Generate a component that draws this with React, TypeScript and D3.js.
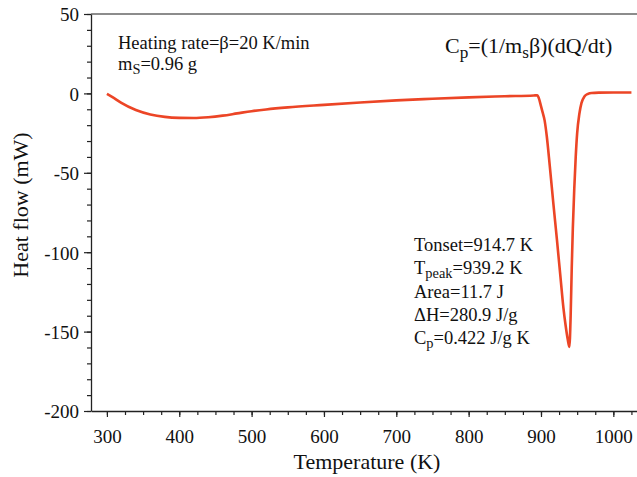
import { useRef, useEffect } from 'react'
import { select, line, scaleLinear, axisBottom, axisLeft, range, curveMonotoneX } from 'd3'

const Settings = {
  width: 637,
  height: 477,
  left: 91,
  right: 643,
  top: 14,
  bottom: 411,
  font: '"Liberation Serif", "Times New Roman", serif',
  lineColor: '#ec4526',
}

// temperature (K) and heat flow (mW)
const temperature = [
  300, 310, 320, 340, 360, 380, 400, 420, 440, 460, 480, 500, 520, 550, 600, 650, 700, 750, 800, 850,
  890, 895, 897, 900, 902, 905, 908, 912, 917, 922, 927, 931, 934, 937, 939.2,
  941, 942.5, 944, 946, 948, 950, 953, 956, 960, 965, 970, 980, 1000, 1025,
]
const heatFlow = [
  -0.3, -3, -6, -10.5, -13.3, -14.8, -15.4, -15.5, -15, -14, -12.6, -11.2, -10.1, -8.8, -7.2, -5.7, -4.4, -3.4, -2.5, -1.8,
  -1.3, -1.2, -3, -8, -11.5, -17, -27, -45, -69, -92, -116, -135, -146, -155, -159.6,
  -140, -110, -85, -60, -40, -25, -13, -6, -2, -0.3, 0.3, 0.5, 0.6, 0.6,
]

const xMajorTicks = [300, 400, 500, 600, 700, 800, 900, 1000]
const xMinorTicks = range(300, 1026, 25)
const yMajorTicks = [50, 0, -50, -100, -150, -200]
const yMinorTicks = range(-200, 51, 10)

const xDomain = [278, 1041]
const yDomain = [-200, 50]

function App() {
  const svgRef = useRef<SVGSVGElement>(null)

  useEffect(() => {
    const svg = select(svgRef.current)
    svg.selectAll('*').remove()

    const xScale = scaleLinear().domain(xDomain).range([Settings.left, Settings.right])
    const yScale = scaleLinear().domain(yDomain).range([Settings.bottom, Settings.top])

    // top frame line (gray)
    svg.append('line')
      .attr('x1', Settings.left).attr('x2', Settings.right)
      .attr('y1', Settings.top).attr('y2', Settings.top)
      .attr('stroke', '#666').attr('stroke-width', 1.5)

    // x axis: minor then major ticks
    svg.append('g')
      .attr('transform', `translate(0,${Settings.bottom})`)
      .call(axisBottom(xScale).tickValues(xMinorTicks).tickSize(4).tickFormat(() => ''))
      .call(g => g.select('.domain').remove())
    const xAxis = svg.append('g')
      .attr('transform', `translate(0,${Settings.bottom})`)
      .call(axisBottom(xScale).tickValues(xMajorTicks).tickSizeInner(6).tickSizeOuter(0).tickPadding(13).tickFormat(d => String(d)))
    xAxis.selectAll('text')
      .style('font-family', Settings.font).style('font-size', '19px').attr('fill', '#111')

    // y axis
    svg.append('g')
      .attr('transform', `translate(${Settings.left},0)`)
      .call(axisLeft(yScale).tickValues(yMinorTicks).tickSize(4).tickFormat(() => ''))
      .call(g => g.select('.domain').remove())
    const yAxis = svg.append('g')
      .attr('transform', `translate(${Settings.left},0)`)
      .call(axisLeft(yScale).tickValues(yMajorTicks).tickSizeInner(7).tickSizeOuter(0).tickPadding(5).tickFormat(d => String(d)))
    yAxis.selectAll('text')
      .attr('dy', '0.36em')
      .style('font-family', Settings.font).style('font-size', '19px').attr('fill', '#111')

    svg.selectAll('.domain').attr('stroke', '#222').attr('stroke-width', 1.3)
    svg.selectAll('.tick line').attr('stroke', '#222').attr('stroke-width', 1.2)

    // the curve
    const data = temperature.map((t, i) => [t, heatFlow[i]] as [number, number])
    const myLine = line<[number, number]>()
      .x(d => xScale(d[0]))
      .y(d => yScale(d[1]))
      .curve(curveMonotoneX)
    svg.append('path')
      .datum(data)
      .attr('d', myLine)
      .attr('fill', 'none')
      .attr('stroke', Settings.lineColor)
      .attr('stroke-width', 2.6)
      .attr('stroke-linejoin', 'round')

    // axis titles
    svg.append('text')
      .attr('x', 367).attr('y', 469)
      .attr('text-anchor', 'middle')
      .style('font-family', Settings.font).style('font-size', '22px').attr('fill', '#111')
      .text('Temperature (K)')
    svg.append('text')
      .attr('transform', `translate(28,205) rotate(-90)`)
      .attr('text-anchor', 'middle')
      .style('font-family', Settings.font).style('font-size', '22px').attr('fill', '#111')
      .text('Heat flow (mW)')

    // annotations
    const addText = (x: number, y: number, parts: [string, boolean][], size: number) => {
      const t = svg.append('text')
        .attr('x', x).attr('y', y)
        .style('font-family', Settings.font).style('font-size', `${size}px`).attr('fill', '#111')
      parts.forEach(([s, sub]) => {
        t.append('tspan')
          .attr('baseline-shift', sub ? '-28%' : null)
          .style('font-size', sub ? `${size * 0.78}px` : null)
          .text(s)
      })
    }

    addText(118, 49, [['Heating rate=β=20 K/min', false]], 18.5)
    addText(118, 70, [['m', false], ['S', true], ['=0.96 g', false]], 18.5)
    addText(445, 53, [['C', false], ['p', true], ['=(1/m', false], ['s', true], ['β)(dQ/dt)', false]], 22)

    addText(414, 251, [['Tonset=914.7 K', false]], 18.5)
    addText(414, 274, [['T', false], ['peak', true], ['=939.2 K', false]], 18.5)
    addText(414, 298, [['Area=11.7 J', false]], 18.5)
    addText(414, 321, [['ΔH=280.9 J/g', false]], 18.5)
    addText(414, 344, [['C', false], ['p', true], ['=0.422 J/g K', false]], 18.5)
  }, [])

  return (
    <svg
      ref={svgRef}
      width={Settings.width}
      height={Settings.height}
      style={{ position: 'absolute', left: 0, top: 0, background: '#fff' }}
    />
  )
}

export default App
